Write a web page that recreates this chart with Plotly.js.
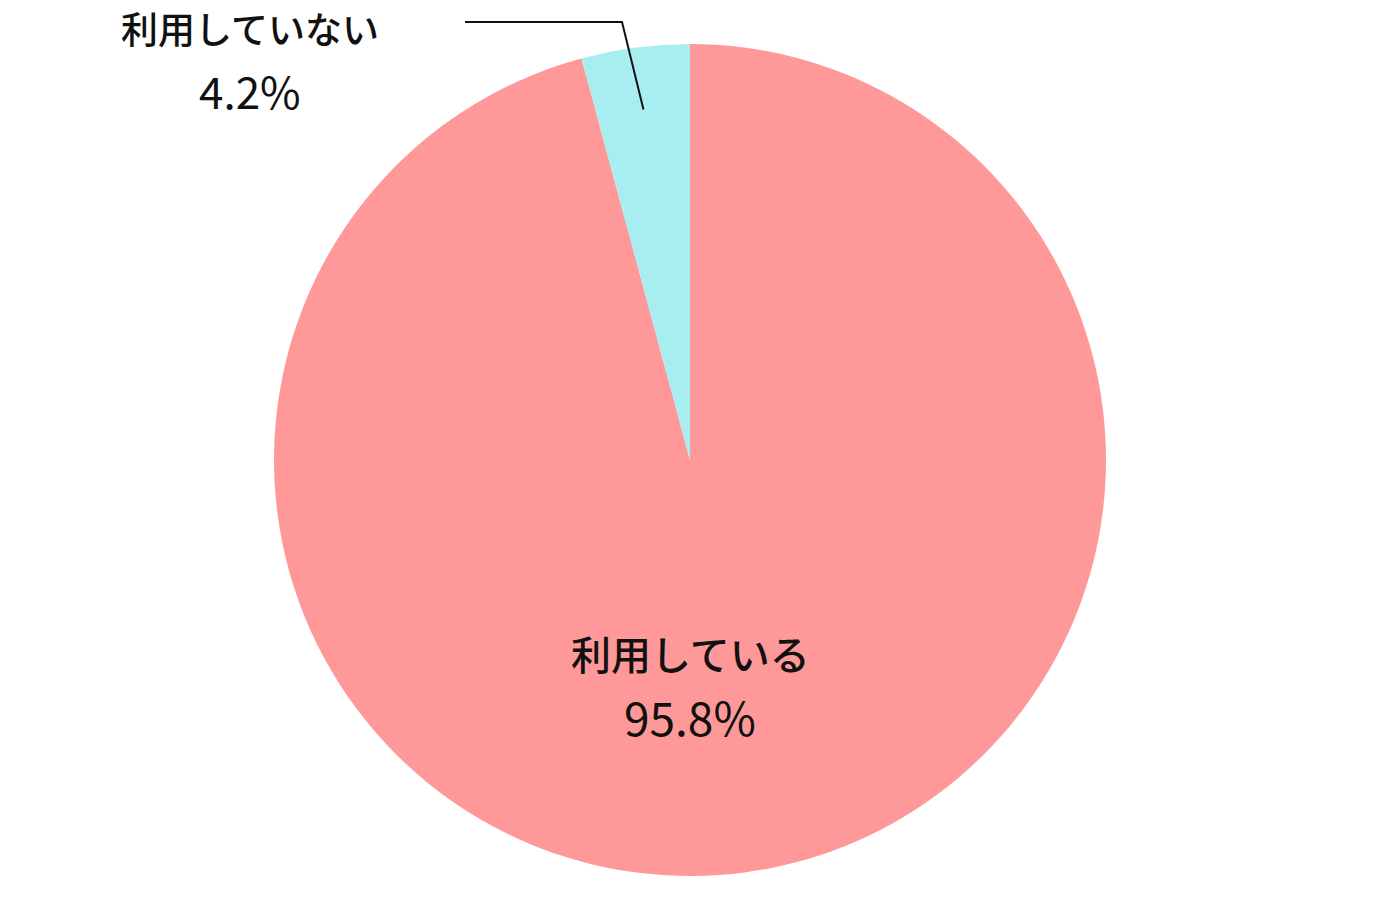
<!DOCTYPE html>
<html>
<head>
<meta charset="utf-8">
<script src="https://cdn.plot.ly/plotly-3.0.1.min.js"></script>
<style>
  html, body { margin: 0; padding: 0; background: #fff; }
  #plot { width: 1380px; height: 920px; }
</style>
</head>
<body>
<div id="plot"></div>
<script>
"use strict";

// Survey answer shares (%), clockwise from 12 o'clock.
const labels = ["利用している", "利用していない"];
const values = [95.8, 4.2];
const colors = ["#FF9999", "#A8EEF0"];

const W = 1380, H = 920;
const CX = 690, CY = 460, R = 416;
const FONT = "Noto Sans CJK JP, Noto Sans, sans-serif";

// pixel -> paper helpers
const px = x => x / W;
const py = y => 1 - y / H;
const fmt = v => v.toFixed(1) + "%";

const traces = [{
    type: "pie",
    labels: labels,
    values: values,
    sort: false,
    direction: "clockwise",
    rotation: 0,
    marker: { colors: colors, line: { width: 0 } },
    textinfo: "none",
    hoverinfo: "label+percent",
    showlegend: false,
    domain: { x: [px(CX - R), px(CX + R)], y: [py(CY + R), py(CY - R)] },
}];

// ── Labels ──
// Big slice: label inside, below centre. Small slice: outside, upper left,
// with an elbow leader line from the slice's mid-angle.
const total = values.reduce((a, b) => a + b, 0);
const smallMid = (values[0] + values[1] / 2) / total * 2 * Math.PI; // clockwise from top
const lx0 = CX + 0.85 * R * Math.sin(smallMid);
const ly0 = CY - 0.85 * R * Math.cos(smallMid);

const annotations = [
    { x: px(CX), y: py(653), text: labels[0], size: 40, weight: 500 },
    { x: px(CX), y: py(716), text: fmt(values[0]), size: 46, weight: 400 },
    { x: px(250), y: py(28), text: labels[1], size: 37, weight: 500 },
    { x: px(250), y: py(90), text: fmt(values[1]), size: 44, weight: 400 },
].map(a => ({
    xref: "paper", yref: "paper", x: a.x, y: a.y,
    xanchor: "center", yanchor: "middle",
    text: a.text, showarrow: false,
    font: { family: FONT, size: a.size, weight: a.weight, color: "#111" },
}));

const shapes = [{
    type: "path", xref: "paper", yref: "paper",
    path: "M " + px(lx0) + " " + py(ly0) +
          " L " + px(622) + " " + py(22) +
          " L " + px(465) + " " + py(22),
    line: { color: "#111", width: 2 },
}];

const layout = {
    width: W, height: H,
    margin: { l: 0, r: 0, t: 0, b: 0 },
    paper_bgcolor: "#fff",
    showlegend: false,
    annotations: annotations,
    shapes: shapes,
};

Plotly.newPlot("plot", traces, layout, { displayModeBar: false, staticPlot: true });
</script>
</body>
</html>
